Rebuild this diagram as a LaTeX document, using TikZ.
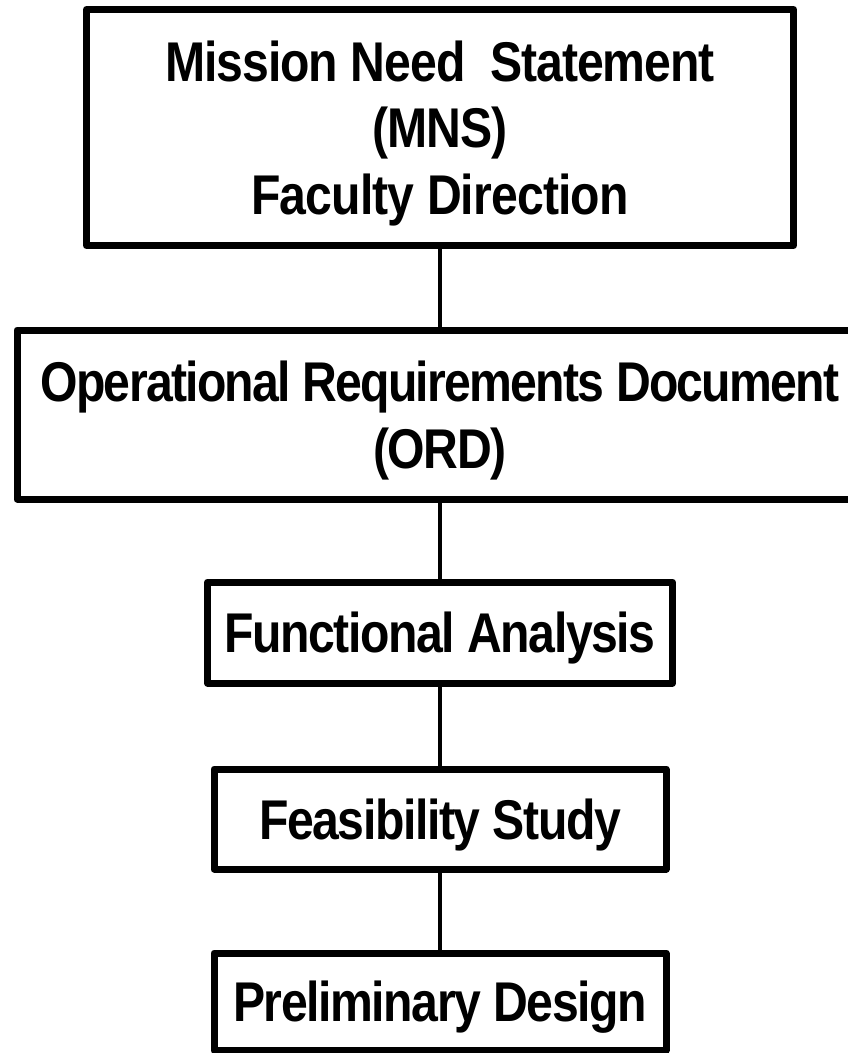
\documentclass[tikz,border=0pt]{standalone}
\usepackage{fontspec}
\newfontfamily\labfont{Liberation Sans}[FakeStretch=0.86,LetterSpace=-2.5]
\begin{document}
\begin{tikzpicture}[x=1pt,y=-1pt,
  box/.style={draw=black, line width=7pt, line join=round, rectangle, inner sep=0pt,
    align=center, text depth=0pt, font=\labfont\bfseries\fontsize{56pt}{66.5pt}\selectfont},
  conn/.style={draw=black, line width=3.8pt}]
\useasboundingbox (0,0) rectangle (848,1053);
\fill[white] (0,0) rectangle (848,1053);
\clip (0,0) rectangle (848,1053);
\node[box, minimum width=707pt, minimum height=236pt] (mns) at (440,127.5)
  {\addfontfeatures{LetterSpace=-1.8}Mission Need\ \ Statement\\
   \addfontfeatures{LetterSpace=-1.8}(MNS)\\
   \addfontfeatures{LetterSpace=-1.6}Faculty Direction};
\node[box, minimum width=846pt, minimum height=169pt] (ord) at (440,414.5)
  {\addfontfeatures{LetterSpace=-3.1}Operational Requirements Document\\(ORD)};
\node[box, minimum width=465pt, minimum height=101pt] (fa) at (440,632.5)
  {Functional Analysis};
\node[box, minimum width=452pt, minimum height=100pt] (fs) at (440,819)
  {Feasibility Study};
\node[box, minimum width=452pt, minimum height=97pt] (pd) at (440,1001.5)
  {Preliminary Design};
\draw[conn] (mns.south) -- (ord.north);
\draw[conn] (ord.south) -- (fa.north);
\draw[conn] (fa.south) -- (fs.north);
\draw[conn] (fs.south) -- (pd.north);
\end{tikzpicture}
\end{document}
